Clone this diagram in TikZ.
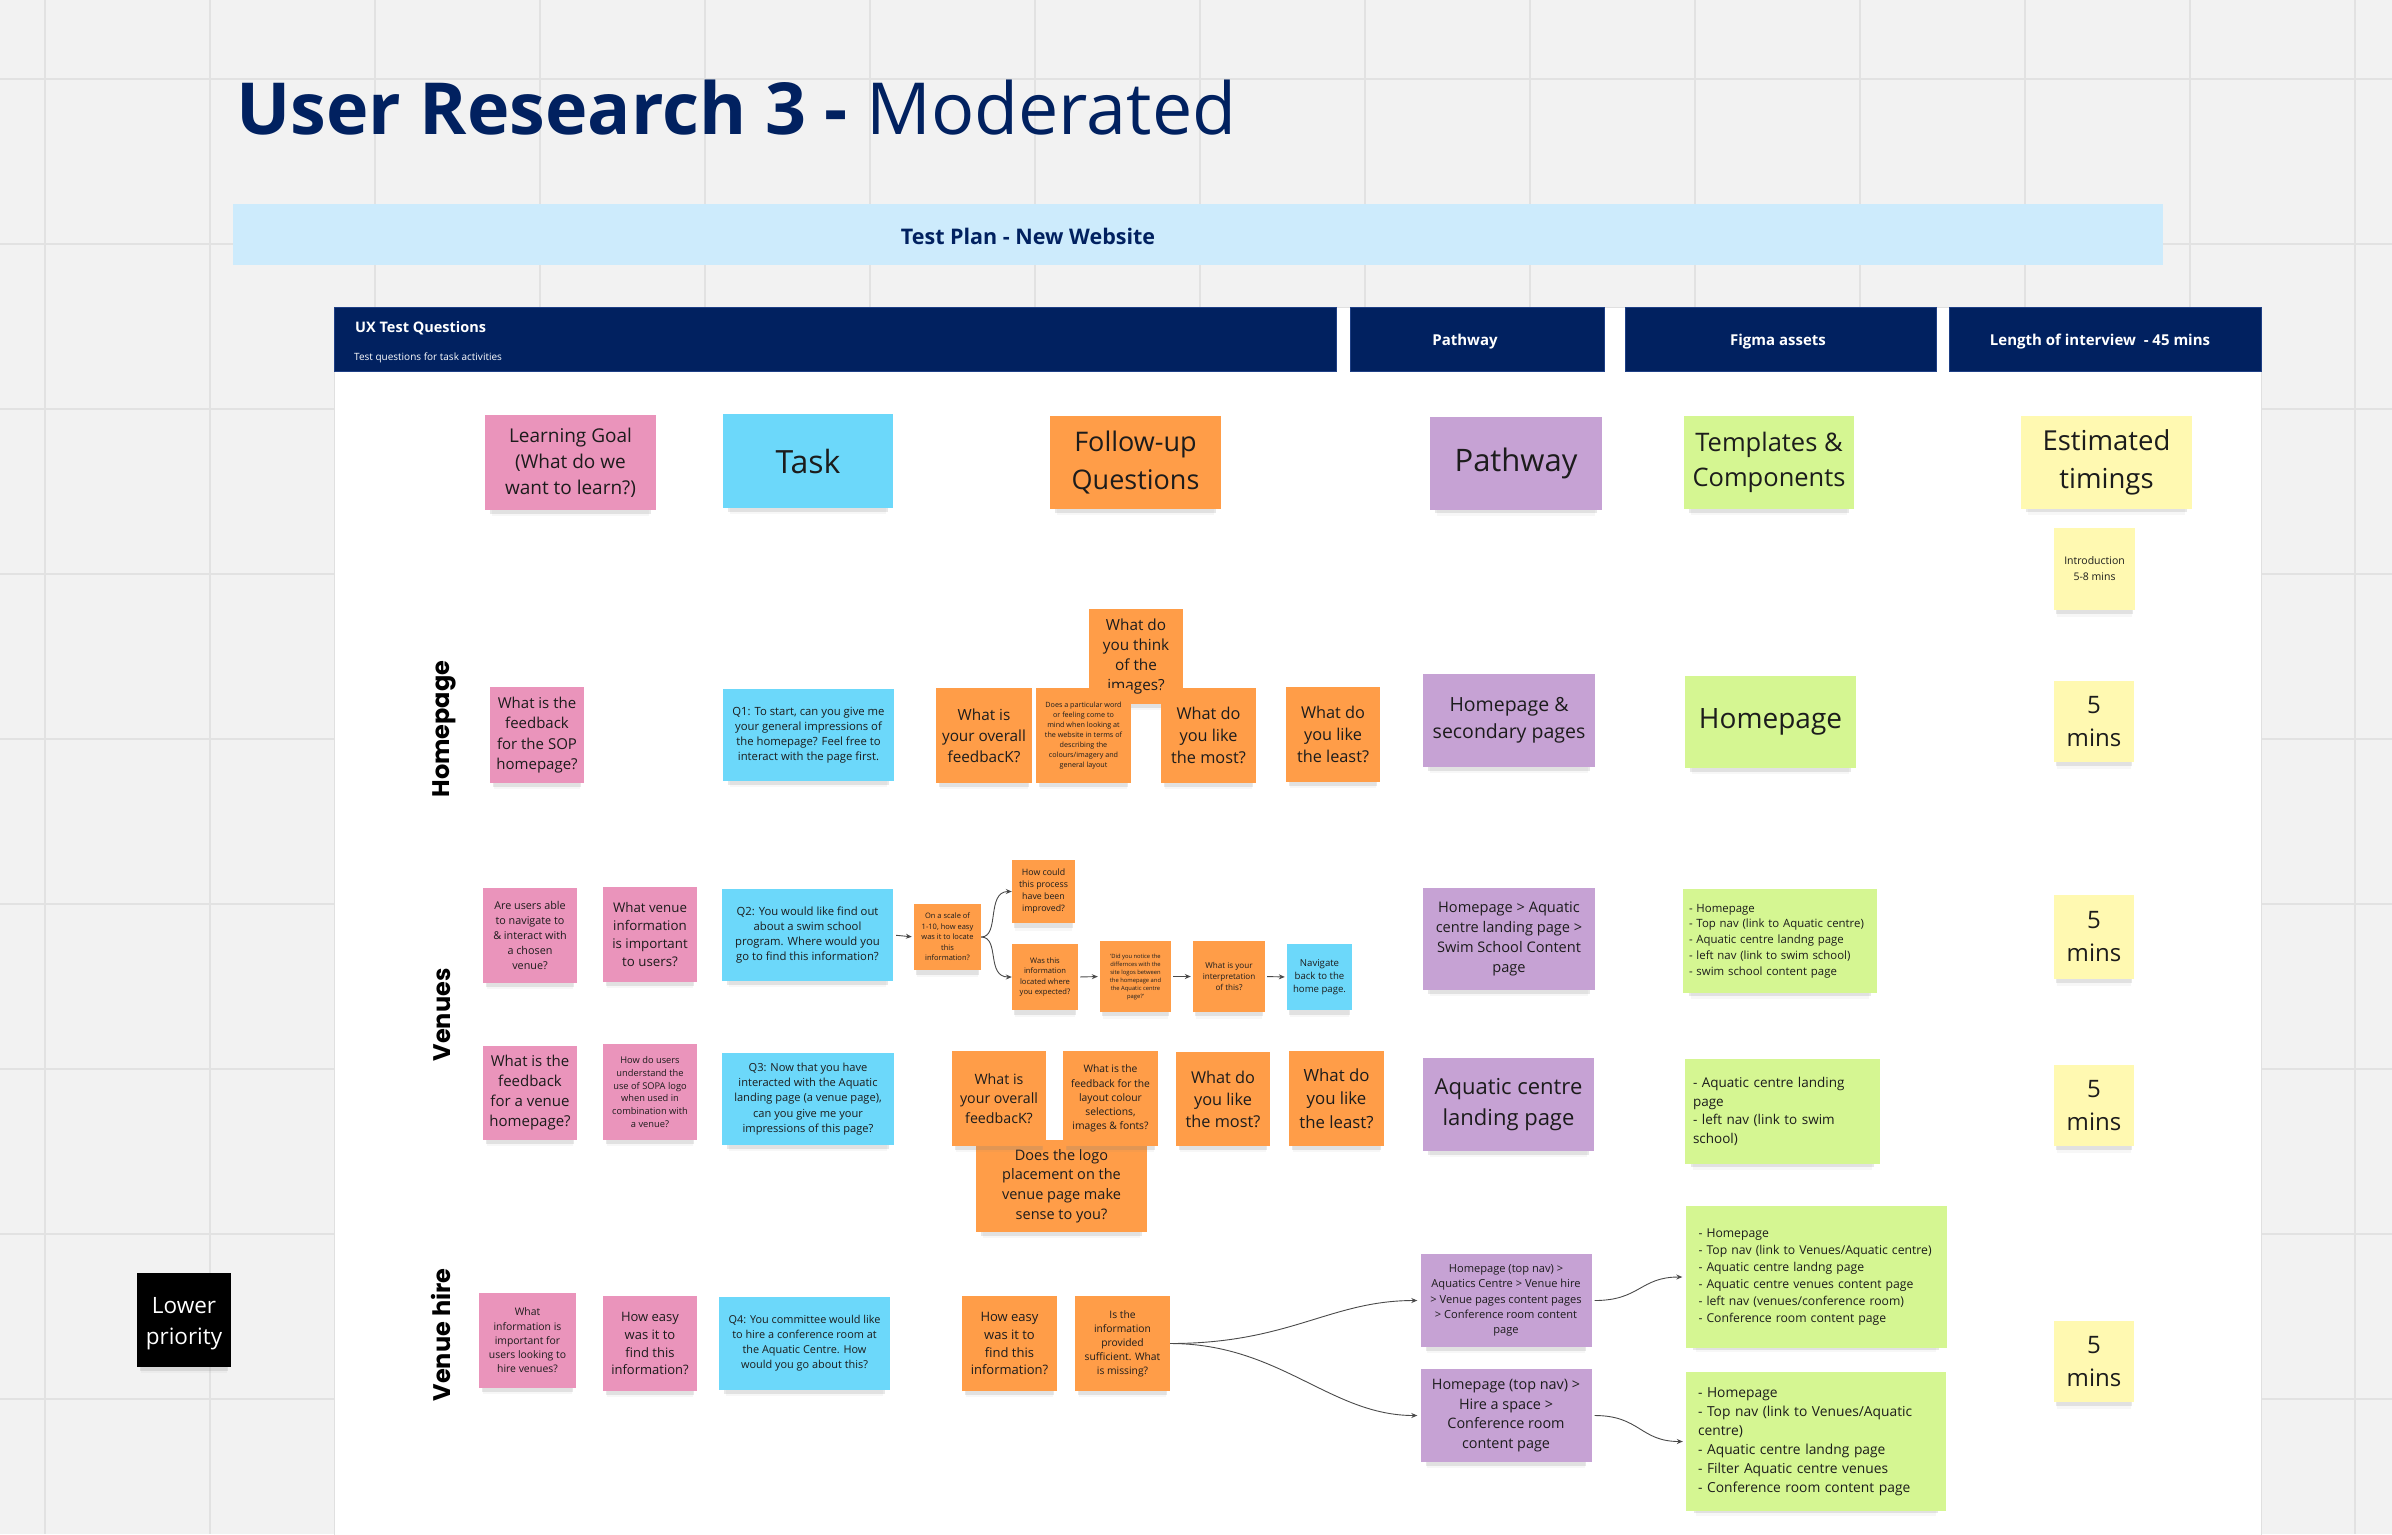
\documentclass[tikz,border=0pt]{standalone}
\usepackage{fontspec}
\setmainfont{Open Sans}
\newfontfamily\lblfont{Poppins}
\usetikzlibrary{arrows.meta,shadows}
\definecolor{bgc}{HTML}{F2F2F2}
\definecolor{gridc}{HTML}{E2E2E2}
\definecolor{navy}{HTML}{012160}
\definecolor{navyB}{HTML}{1E3F85}
\definecolor{bannerc}{HTML}{CDEBFC}
\definecolor{pinkS}{HTML}{EA94BB}
\definecolor{blueS}{HTML}{6CD8FA}
\definecolor{orangeS}{HTML}{FF9D48}
\definecolor{purpleS}{HTML}{C6A2D4}
\definecolor{greenS}{HTML}{D5F692}
\definecolor{yellowS}{HTML}{FFF9B1}
\definecolor{ink}{HTML}{1C1C1C}
\definecolor{arrowc}{HTML}{4A4A4A}
\newcommand{\fz}[2]{\fontsize{#1}{#2}\selectfont}
\begin{document}
\begin{tikzpicture}[x=1pt,y=-1pt,
  sticky/.style={inner sep=0pt, align=center, text=ink,
    drop shadow={shadow xshift=0pt, shadow yshift=-11pt, shadow scale=0.92, opacity=0.06},
    drop shadow={shadow xshift=0pt, shadow yshift=-7pt, shadow scale=0.94, opacity=0.18}},
  pinkN/.style={sticky, fill=pinkS},
  blueN/.style={sticky, fill=blueS},
  orangeN/.style={sticky, fill=orangeS},
  purpleN/.style={sticky, fill=purpleS},
  greenN/.style={sticky, fill=greenS},
  yellowN/.style={sticky, fill=yellowS},
  listN/.style={greenN, align=left, inner xsep=10pt},
  nohy/.style={font=\hyphenpenalty=10000\exhyphenpenalty=10000},
  hdr/.style={fill=navy, draw=navyB, line width=1pt, inner sep=0pt},
  hdrtext/.style={anchor=base, inner sep=0pt, text=white, font=\bfseries\fz{15}{18}},
  rowlabel/.style={rotate=90, font=\lblfont\bfseries\fz{24}{24}, text=black},
  conn/.style={draw=arrowc, line width=0.9pt, -{Stealth[length=6pt,width=5pt]}},
  gridline/.style={draw=gridc, line width=2pt}
]
\useasboundingbox (0,0) rectangle (2392,1534);
\fill[bgc] (0,0) rectangle (2392,1534);
\foreach \i in {0,...,14} \draw[gridline] ({45+165*\i},0) -- ({45+165*\i},1534);
\foreach \j in {0,...,8} \draw[gridline] (0,{79+165*\j}) -- (2392,{79+165*\j});

% title
\node[anchor=base west, inner sep=0pt, text=navy, font=\fz{71.8}{80}] (title) at (236,134) {\textbf{User Research 3 -} Moderated};
% banner
\node[fill=bannerc, minimum width=1930, minimum height=61, inner sep=0pt] (banner) at (1198,234.5) {};
\node[text=navy, font=\bfseries\fz{21.5}{24}, inner sep=0pt] (bannerText) at (1028,236) {Test Plan - New Website};

% panel
\draw[fill=white, draw=black!12, line width=1pt] (334,307) rectangle (2261,1540);

% headers
\node[hdr, minimum width=1002, minimum height=64] (hdrUX) at (835,339) {};
\node[anchor=base west, inner sep=0pt, text=white, font=\bfseries\fz{14.5}{18}] (hdrUXt) at (355,332) {UX Test Questions};
\node[anchor=base west, inner sep=0pt, text=white, font=\fz{10}{12}] (hdrUXs) at (354,360) {Test questions for task activities};
\node[hdr, minimum width=254, minimum height=64] (hdrPath) at (1477,339) {};
\node[hdrtext] (hdrPathT) at (1465,345) {Pathway};
\node[hdr, minimum width=311, minimum height=64] (hdrFig) at (1780.5,339) {};
\node[hdrtext] (hdrFigT) at (1778,345) {Figma assets};
\node[hdr, minimum width=312, minimum height=64] (hdrLen) at (2105,339) {};
\node[hdrtext] (hdrLenT) at (2100,345) {Length of interview\ \ - 45 mins};

% column header stickies
\node[pinkN, minimum width=171, minimum height=95, font=\fz{19}{26}] (goal) at (570.5,462.5) {Learning Goal\\(What do we\\want to learn?)};
\node[blueN, minimum width=170, minimum height=94, font=\fz{32}{40}] (task) at (808,461) {Task};
\node[orangeN, minimum width=171, minimum height=93, font=\fz{27}{38}] (followup) at (1135.5,462.5) {Follow-up\\Questions};
\node[purpleN, minimum width=172, minimum height=93, font=\fz{31}{40}] (pathway) at (1516,463) {Pathway};
\node[greenN, minimum width=170, minimum height=93, font=\fz{25.5}{35}] (templates) at (1769,462.5) {Templates \&\\Components};
\node[yellowN, minimum width=171, minimum height=93, font=\fz{27.5}{38}] (estimated) at (2106.5,462) {Estimated\\timings};
\node[yellowN, minimum width=81, minimum height=82, font=\fz{10.5}{16}] (intro) at (2094.5,569) {Introduction\\5-8 mins};

% row labels
\node[rowlabel] (lblHome) at (444,729) {Homepage};
\node[rowlabel] (lblVenues) at (442,1015) {Venues};
\node[rowlabel] (lblHire) at (441,1335) {Venue hire};

% Homepage row
\node[pinkN, minimum width=94, minimum height=96, font=\fz{15}{20.5}] (hpGoal) at (537,735) {What is the\\feedback\\for the SOP\\homepage?};
\node[blueN, minimum width=171, minimum height=92, font=\fz{11.3}{15}] (hpTask) at (808.5,735) {Q1: To start, can you give me\\your general impressions of\\the homepage? Feel free to\\interact with the page first.};
\node[orangeN, minimum width=94, minimum height=95, font=\fz{15.3}{20}] (hpImages) at (1136,656.5) {What do\\you think\\of the\\images?};
\node[orangeN, minimum width=96, minimum height=95, font=\fz{15.3}{21}] (hpOverall) at (984,735.5) {What is\\your overall\\feedbacK?};
\node[orangeN, minimum width=95, minimum height=95, font=\fz{7.2}{10}] (hpWord) at (1083.5,735.5) {Does a particular word\\or feeling come to\\mind when looking at\\the website in terms of\\describing the\\colours/imagery and\\general layout};
\node[orangeN, minimum width=95, minimum height=95, font=\fz{16.3}{22.3}] (hpMost) at (1208.5,735.5) {What do\\you like\\the most?};
\node[orangeN, minimum width=94, minimum height=95, font=\fz{16.3}{22.3}] (hpLeast) at (1333,734.5) {What do\\you like\\the least?};
\node[purpleN, minimum width=172, minimum height=93, font=\fz{19.5}{27}] (hpPath) at (1509,720.5) {Homepage \&\\secondary pages};
\node[greenN, minimum width=171, minimum height=92, font=\fz{28}{36}] (hpFigma) at (1770.5,722) {Homepage};
\node[yellowN, minimum width=80, minimum height=81, font=\fz{24}{33}] (hpTime) at (2094,721.5) {5\\mins};

% Venues row 1
\node[pinkN, minimum width=94, minimum height=95, font=\fz{10.8}{15}] (vGoalA) at (530,935.5) {Are users able\\to navigate to\\\& interact with\\a chosen\\venue?};
\node[pinkN, minimum width=94, minimum height=95, font=\fz{13.3}{18}] (vGoalB) at (650,934.5) {What venue\\information\\is important\\to users?};
\node[blueN, minimum width=171, minimum height=92, font=\fz{11.3}{15.3}] (vTaskA) at (807.5,935) {Q2: You would like find out\\about a swim school\\program. Where would you\\go to find this information?};
\node[orangeN, minimum width=67, minimum height=66, font=\fz{7.5}{10.5}] (vScale) at (947.5,937) {On a scale of\\1-10, how easy\\was it to locate\\this\\information?};
\node[orangeN, minimum width=63, minimum height=63, font=\fz{8.8}{12}] (vImprove) at (1043.5,891.5) {How could\\this process\\have been\\improved?};
\node[orangeN, minimum width=66, minimum height=66, font=\fz{7.6}{10.4}] (vLocated) at (1045,977) {Was this\\information\\located where\\you expected?};
\node[orangeN, minimum width=71, minimum height=71, font=\fz{5.8}{8}] (vNotice) at (1135.5,976.5) {'Did you notice the\\differnces with the\\site logos between\\the homepage and\\the Aquatic centre\\page?'};
\node[orangeN, minimum width=72, minimum height=71, font=\fz{8.1}{11.2}] (vInterp) at (1229,976.5) {What is your\\interpretation\\of this?};
\node[blueN, minimum width=65, minimum height=66, font=\fz{9.6}{13}] (vNav) at (1319.5,977) {Navigate\\back to the\\home page.};
\node[purpleN, minimum width=172, minimum height=102, font=\fz{14.6}{20}] (vPathA) at (1509,939) {Homepage > Aquatic\\centre landing page >\\Swim School Content\\page};
\node[listN, nohy, inner xsep=6pt, text width=182, minimum height=104, font=\fz{11.4}{15.8}] (vFigmaA) at (1780,941) {- Homepage\\- Top nav (link to Aquatic centre)\\- Aquatic centre landng page\\- left nav (link to swim school)\\- swim school content page};
\node[yellowN, minimum width=80, minimum height=84, font=\fz{24}{33}] (vTimeA) at (2094,937) {5\\mins};

% Venues row 2
\node[pinkN, minimum width=94, minimum height=94, font=\fz{15}{20}] (vGoalC) at (530,1093) {What is the\\feedback\\for a venue\\homepage?};
\node[pinkN, minimum width=94, minimum height=96, font=\fz{9.3}{12.7}] (vGoalD) at (650,1092) {How do users\\understand the\\use of SOPA logo\\when used in\\combination with\\a venue?};
\node[blueN, minimum width=172, minimum height=92, font=\fz{11.1}{15.2}] (vTaskB) at (808,1099) {Q3: Now that you have\\interacted with the Aquatic\\landing page (a venue page),\\can you give me your\\impressions of this page?};
\node[orangeN, minimum width=171, minimum height=92, font=\fz{14.5}{19.8}] (vLogo) at (1061.5,1186) {Does the logo\\placement on the\\venue page make\\sense to you?};
\node[orangeN, minimum width=94, minimum height=95, font=\fz{14.2}{19.3}] (vOverall) at (999,1098.5) {What is\\your overall\\feedbacK?};
\node[orangeN, minimum width=95, minimum height=95, font=\fz{10.3}{14.1}] (vLayout) at (1110.5,1098.5) {What is the\\feedback for the\\layout colour\\selections,\\images \& fonts?};
\node[orangeN, minimum width=94, minimum height=94, font=\fz{16.3}{22}] (vMost) at (1223,1099) {What do\\you like\\the most?};
\node[orangeN, minimum width=95, minimum height=95, font=\fz{16.8}{23.3}] (vLeast) at (1336.5,1098.5) {What do\\you like\\the least?};
\node[purpleN, minimum width=171, minimum height=93, font=\fz{22}{30.6}] (vPathB) at (1508.5,1104.5) {Aquatic centre\\landing page};
\node[listN, nohy, inner xsep=8pt, text width=179, minimum height=105, font=\fz{13.5}{18.6}] (vFigmaB) at (1782.5,1111.5) {- Aquatic centre landing\\page\\- left nav (link to swim\\school)};
\node[yellowN, minimum width=80, minimum height=81, font=\fz{24}{33}] (vTimeB) at (2094,1105.5) {5\\mins};

% Venue hire row
\node[pinkN, minimum width=97, minimum height=95, font=\fz{10.4}{14.25}] (vhGoalA) at (527.5,1340.5) {What\\information is\\important for\\users looking to\\hire venues?};
\node[pinkN, minimum width=94, minimum height=95, font=\fz{13}{17.9}] (vhGoalB) at (650,1343.5) {How easy\\was it to\\find this\\information?};
\node[blueN, minimum width=171, minimum height=93, font=\fz{10.9}{15}] (vhTask) at (804.5,1343.5) {Q4: You committee would like\\to hire a conference room at\\the Aquatic Centre. How\\would you go about this?};
\node[orangeN, minimum width=95, minimum height=95, font=\fz{13}{17.9}] (vhEasy) at (1009.5,1343.5) {How easy\\was it to\\find this\\information?};
\node[orangeN, minimum width=95, minimum height=95, font=\fz{10.3}{14}] (vhInfo) at (1122.5,1343.5) {Is the\\information\\provided\\sufficient. What\\is missing?};
\node[purpleN, minimum width=171, minimum height=93, font=\fz{11.1}{15.2}] (vhPathA) at (1506,1300.5) {Homepage (top nav) >\\Aquatics Centre > Venue hire\\> Venue pages content pages\\> Conference room content\\page};
\node[purpleN, minimum width=171, minimum height=93, font=\fz{14.4}{19.8}] (vhPathB) at (1506,1415.5) {Homepage (top nav) >\\Hire a space >\\Conference room\\content page};
\node[listN, nohy, inner xsep=13pt, text width=235, minimum height=142, font=\fz{12.2}{16.9}] (vhFigmaA) at (1816,1277) {- Homepage\\- Top nav (link to Venues/Aquatic centre)\\- Aquatic centre landng page\\- Aquatic centre venues content page\\- left nav (venues/conference room)\\- Conference room content page};
\node[listN, nohy, inner xsep=12pt, text width=236, minimum height=139, font=\fz{13.8}{18.9}] (vhFigmaB) at (1816,1441.5) {- Homepage\\- Top nav (link to Venues/Aquatic\\centre)\\- Aquatic centre landng page\\- Filter Aquatic centre venues\\- Conference room content page};
\node[yellowN, minimum width=80, minimum height=81, font=\fz{24}{33}] (vhTime) at (2094,1361.5) {5\\mins};

% lower priority
\node[sticky, fill=black, text=white, minimum width=94, minimum height=94, font=\fz{22.5}{31}] (lower) at (184,1320) {\raisebox{-4pt}[\height][\depth]{\parbox{90pt}{\centering Lower\\priority}}};

% connectors
\draw[conn, shorten <=3pt, shorten >=2pt] (vTaskA.east) -- (vScale.west);
\draw[conn] (vScale.east) .. controls (1000,937) and (986,891.5) .. (vImprove.west);
\draw[conn] (vScale.east) .. controls (1000,937) and (986,977) .. (vLocated.west);
\draw[conn, shorten <=2pt, shorten >=2pt] (vLocated.east) -- (vNotice.west);
\draw[conn, shorten <=2pt, shorten >=2pt] (vNotice.east) -- (vInterp.west);
\draw[conn, shorten <=2pt, shorten >=2pt] (vInterp.east) -- (vNav.west);
\draw[conn, shorten >=3pt] (vhInfo.east) .. controls (1290,1343.5) and (1330,1300.5) .. (vhPathA.west);
\draw[conn, shorten >=3pt] (vhInfo.east) .. controls (1280,1343.5) and (1330,1415.5) .. (vhPathB.west);
\draw[conn, shorten <=3pt, shorten >=3pt] (vhPathA.east) .. controls (1640,1300.5) and (1640,1277) .. (vhFigmaA.west);
\draw[conn, shorten <=3pt, shorten >=3pt] (vhPathB.east) .. controls (1640,1415.5) and (1640,1441.5) .. (vhFigmaB.west);
\end{tikzpicture}
\end{document}
